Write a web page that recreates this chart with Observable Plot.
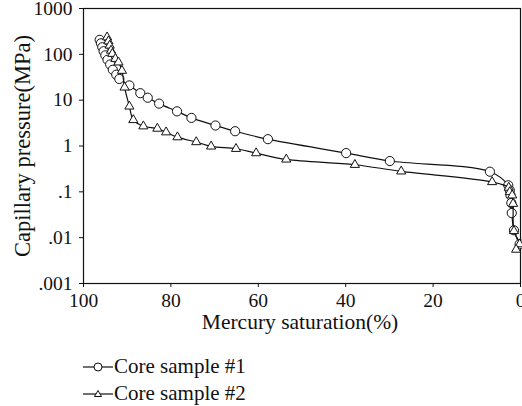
<!DOCTYPE html>
<html><head><meta charset="utf-8">
<script src="https://cdn.jsdelivr.net/npm/d3@7"></script>
<script src="https://cdn.jsdelivr.net/npm/@observablehq/plot@0.6"></script>
<style>
body{margin:0;background:#fff;font-family:"Liberation Serif","Times New Roman",serif;}
#chart svg{display:block;}
#legend{margin-left:83px;margin-top:13px;font-size:21px;color:#111;}
.row{display:flex;align-items:center;height:27px;}
.row svg{display:block;margin-right:1px;}
</style></head><body>
<div id="chart"></div>
<div id="legend"></div>
<script>
const seriesNames = ["Core sample #1", "Core sample #2"];
const s1Saturation = [96.3, 96.0, 95.7, 95.4, 95.0, 94.5, 93.9, 93.3, 92.5, 91.8, 89.5, 87.0, 85.3, 82.7, 78.6, 75.3, 69.8, 65.3, 57.8, 39.9, 29.9, 7.0, 2.8, 2.45, 2.3, 2.1, 2.0, 1.5, 0.2];
const s1Pressure = [207, 174, 143, 117, 95, 76, 60, 46, 36, 29, 21, 14.2, 11.3, 8.4, 5.7, 4.1, 2.8, 2.1, 1.41, 0.70, 0.47, 0.275, 0.139, 0.108, 0.084, 0.057, 0.0345, 0.0145, 0.0072];
const s2Saturation = [94.6, 94.3, 94.0, 93.7, 93.4, 92.7, 92.0, 91.2, 90.6, 89.5, 88.6, 86.3, 83.1, 81.1, 78.5, 74.2, 70.8, 65.1, 60.5, 53.6, 37.9, 27.3, 6.5, 2.7, 2.45, 1.9, 1.7, 1.5, 0.2, 1.0];
const s2Pressure = [236, 193, 156, 121, 103, 80, 67, 44, 19, 7.3, 3.7, 2.7, 2.4, 2.0, 1.56, 1.22, 0.98, 0.87, 0.70, 0.51, 0.39, 0.28, 0.164, 0.124, 0.099, 0.084, 0.055, 0.014, 0.0072, 0.0055];
const xTicks = [100, 80, 60, 40, 20, 0];
const yTicks = [1000, 100, 10, 1, 0.1, 0.01, 0.001];
const yTickLabels = ["1000", "100", "10", "1", ".1", ".01", ".001"];
const xLabel = "Mercury saturation(%)";
const yLabel = "Capillary pressure(MPa)";

const s1 = s1Saturation.map((x, i) => ({series: seriesNames[0], x, y: s1Pressure[i]}));
const s2 = s2Saturation.map((x, i) => ({series: seriesNames[1], x, y: s2Pressure[i]}));

const H = 340;
const chart = Plot.plot({
  width: 522,
  height: H,
  marginLeft: 83,
  marginRight: 2,
  marginTop: 8,
  marginBottom: H - 283,
  style: {fontFamily: "'Liberation Serif','Times New Roman',serif", fontSize: "19.5px", color: "#111", background: "white", overflow: "visible"},
  x: {domain: [100, 0], ticks: xTicks, tickFormat: d => String(d), tickSize: 4, tickPadding: 6, label: null},
  y: {type: "log", domain: [0.001, 1000], ticks: yTicks, tickFormat: d => yTickLabels[yTicks.indexOf(d)] ?? "", tickSize: 4, tickPadding: 7,
      label: yLabel, labelAnchor: "center", labelOffset: 69},
  marks: [
    Plot.frame({stroke: "#111", strokeWidth: 1.2}),
    Plot.line(s1, {x: "x", y: "y", curve: "catmull-rom", stroke: "#111", strokeWidth: 1.2}),
    Plot.dot(s1, {x: "x", y: "y", r: 4.6, symbol: "circle", fill: "white", stroke: "#111", strokeWidth: 1}),
    Plot.line(s2, {x: "x", y: "y", curve: "catmull-rom", stroke: "#111", strokeWidth: 1.2}),
    Plot.dot(s2, {x: "x", y: "y", r: 3.4, symbol: "triangle", fill: "white", stroke: "#111", strokeWidth: 1}),
    Plot.text([xLabel], {frameAnchor: "bottom", dy: 45, dx: -2, fontSize: 21.5, fill: "#111"})
  ]
});
// y-axis title: drop the automatic arrow and enlarge it to match the reference
d3.select(chart).selectAll("text").filter(function() { return this.textContent.startsWith(yLabel); })
  .text(yLabel)
  .attr("font-size", "22.5px");
document.getElementById("chart").appendChild(chart);

const legend = document.getElementById("legend");
seriesNames.forEach((name, i) => {
  const row = document.createElement("div");
  row.className = "row";
  const sym = i === 0
    ? '<circle cx="15" cy="10" r="4" fill="white" stroke="#111"/>'
    : '<path d="M15,6.5 L18.5,12.5 L11.5,12.5 Z" fill="white" stroke="#111"/>';
  row.innerHTML = '<svg width="30" height="20"><line x1="0" x2="30" y1="10" y2="10" stroke="#111" stroke-width="1.2"/>' + sym + '</svg><span>' + name + '</span>';
  legend.appendChild(row);
});
</script>
</body></html>
